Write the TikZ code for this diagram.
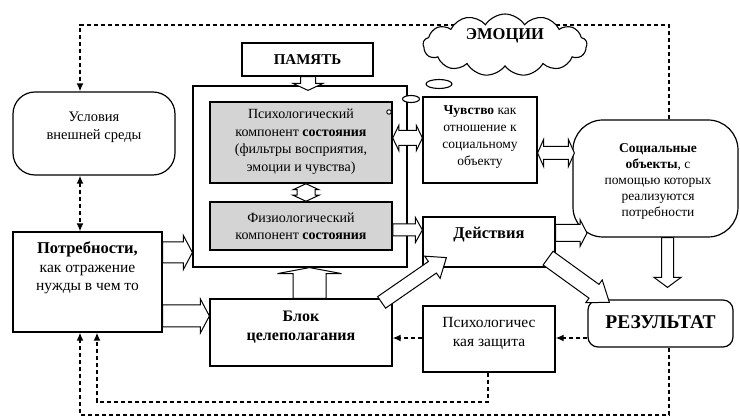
\documentclass[tikz,border=0pt]{standalone}
\usepackage{fontspec}
\setmainfont{Liberation Serif}
\usetikzlibrary{calc,shapes.symbols,shapes.geometric,arrows.meta}
% hollow single arrow: #1 start, #2 end, #3 half shaft, #4 half head, #5 head length
\newcommand\harrow[5]{%
  \coordinate (hq) at ($#2!#5!#1$);
  \draw[harr] ($#1!#3!90:#2$) -- ($(hq)!#3!90:#2$) -- ($(hq)!#4!90:#2$) -- #2
    -- ($(hq)!#4!-90:#2$) -- ($(hq)!#3!-90:#2$) -- ($#1!#3!-90:#2$) -- cycle;
}
% hollow double arrow
\newcommand\hdarrow[5]{%
  \coordinate (hp) at ($#1!#5!#2$);
  \coordinate (hq) at ($#2!#5!#1$);
  \draw[harr] #1 -- ($(hp)!#4!90:#2$) -- ($(hp)!#3!90:#2$) -- ($(hq)!#3!90:#2$)
    -- ($(hq)!#4!90:#2$) -- #2 -- ($(hq)!#4!-90:#2$) -- ($(hq)!#3!-90:#2$)
    -- ($(hp)!#3!-90:#2$) -- ($(hp)!#4!-90:#2$) -- cycle;
}
\begin{document}
\begin{tikzpicture}[x=1pt,y=-1pt,
  box/.style={draw, line width=1.2pt, fill=white, inner sep=0pt},
  gbox/.style={draw, line width=1.5pt, fill=black!17, inner sep=0pt},
  txt/.style={align=center, inner sep=0pt, font=\fontsize{14}{17.5}\selectfont},
  btxt/.style={align=center, inner sep=0pt, font=\fontsize{15.5}{18.5}\selectfont},
  harr/.style={line width=1pt, draw, fill=white, line join=miter},
  dline/.style={line width=1.8pt, dash pattern=on 4.5pt off 2.5pt},
  darr/.style={-{Latex[length=8pt,width=7pt]}}
]
\useasboundingbox (0,0) rectangle (740,419);

% ---------- boxes ----------
\node[box, minimum width=214pt, minimum height=181pt] (frame) at (300,176.5) {};
\node[box, minimum width=131pt, minimum height=33pt] (mem) at (307.5,59.5) {};
\node[txt, font=\fontsize{15}{17}\selectfont\bfseries] (memT) at (307.5,60) {ПАМЯТЬ};
\node[gbox, minimum width=182pt, minimum height=81pt] (psy) at (301,142.5) {};
\node[txt] (psyT) at (301,141.5) {Психологический\\компонент \textbf{состояния}\\(фильтры восприятия,\\эмоции и чувства)};
\node[gbox, minimum width=182pt, minimum height=48pt] (phy) at (301,226) {};
\node[txt] (phyT) at (301,226.5) {Физиологический\\компонент \textbf{состояния}};
\node[box, minimum width=114pt, minimum height=86pt] (feel) at (480,140) {};
\node[txt, font=\fontsize{13.5}{17}\selectfont] (feelT) at (480,137.5) {\textbf{Чувство} как\\отношение к\\социальному\\объекту};
\node[box, rounded corners=30pt, minimum width=165pt, minimum height=117pt] (soc) at (655.5,178.5) {};
\node[txt, font=\fontsize{13.5}{16}\selectfont] (socT) at (658,181) {\textbf{Социальные}\\\textbf{объекты}, с\\помощью которых\\реализуются\\потребности};
\node[box, rounded corners=22pt, minimum width=162pt, minimum height=83pt] (env) at (94,133.5) {};
\node[btxt, font=\fontsize{14.5}{18.5}\selectfont] (envT) at (94,127.5) {Условия\\внешней среды};
\node[box, minimum width=149pt, minimum height=100pt] (need) at (87.5,282) {};
\node[btxt] (needT) at (87.5,268) {{\fontsize{16.5}{18.5}\selectfont\bfseries Потребности,}\\как отражение\\нужды в чем то};
\node[box, minimum width=182pt, minimum height=67pt] (goal) at (301,332.5) {};
\node[btxt, font=\fontsize{16}{19}\selectfont\bfseries] (goalT) at (301,327.5) {Блок\\целеполагания};
\node[box, minimum width=132pt, minimum height=50pt] (act) at (489,242) {};
\node[btxt, font=\fontsize{16.5}{18}\selectfont\bfseries] (actT) at (489,235) {Действия};
\node[box, minimum width=132pt, minimum height=66pt] (def) at (489,339) {};
\node[btxt] (defT) at (489,333.5) {Психологичес\\кая защита};
\node[box, rounded corners=10pt, minimum width=145pt, minimum height=47pt] (res) at (660.5,323.5) {};
\node[inner sep=0pt, font=\fontsize{19.5}{21}\selectfont\bfseries] (resT) at (660.5,322) {РЕЗУЛЬТАТ};

% ---------- dashed connectors ----------
\coordinate (t1) at (669,25);
\coordinate (t2) at (80,25);
\draw[dline, darr] (soc.north -| t1) -- (t1) -- (t2) -- (env.north -| t2);
\coordinate (e1) at (80,0);
\draw[dline, {Latex[length=8pt,width=7pt]}-{Latex[length=8pt,width=7pt]}] (env.south -| e1) -- (need.north -| e1);
\coordinate (ry) at (0,338);
\draw[dline, darr] (res.west |- ry) -- (def.east |- ry);
\draw[dline, darr] (def.west |- ry) -- (goal.east |- ry);
\coordinate (b1) at (488,402);
\coordinate (b2) at (97,402);
\draw[dline, darr] (def.south -| b1) -- (b1) -- (b2) -- (need.south -| b2);
\coordinate (c1) at (669,415);
\coordinate (c2) at (80,415);
\draw[dline, darr] (res.south -| c1) -- (c1) -- (c2) -- (need.south -| c2);

% ---------- cloud and thought bubbles ----------
\node[cloud, cloud puffs=13, cloud puff arc=115, aspect=2.7, draw, line width=1.1pt, fill=white,
      minimum width=164pt, minimum height=62pt, inner sep=0pt] (emo) at (505,45) {};
\node[inner sep=0pt, font=\fontsize{16.5}{18}\selectfont\bfseries] (emoT) at (505,36) {ЭМОЦИИ};
\node[draw, line width=1.1pt, fill=white, ellipse, minimum width=26pt, minimum height=9pt, inner sep=0pt] (bub1) at (439,84) {};
\node[draw, line width=1.1pt, fill=white, ellipse, minimum width=17pt, minimum height=7pt, inner sep=0pt] (bub2) at (411,99) {};
\node[draw, line width=0.9pt, fill=white, circle, minimum size=4.5pt, inner sep=0pt] (bub3) at (389,112) {};

% ---------- hollow arrows ----------
\coordinate (m1) at (308,0);
\harrow{(mem.south -| m1)}{($(frame.north -| m1)+(0,5)$)}{7.5pt}{15pt}{7pt}
\coordinate (v1) at (306,0);
\hdarrow{(psy.south -| v1)}{(phy.north -| v1)}{9pt}{13pt}{6pt}
\coordinate (h1) at (0,138);
\hdarrow{(psy.east |- h1)}{(feel.west |- h1)}{7.5pt}{12.5pt}{6pt}
\coordinate (h2) at (0,230);
\harrow{(phy.east |- h2)}{(act.west |- h2)}{6pt}{12.5pt}{7pt}
\coordinate (h3) at (0,153);
\hdarrow{(feel.east |- h3)}{($(soc.west |- h3)+(2,0)$)}{6.5pt}{13.5pt}{6pt}
\coordinate (h4) at (0,233);
\harrow{(act.east |- h4)}{(587,233)}{8.5pt}{13.5pt}{7pt}
\coordinate (h5) at (0,252.5);
\harrow{(need.east |- h5)}{(frame.west |- h5)}{10.5pt}{17pt}{9pt}
\coordinate (h6) at (0,316);
\harrow{(need.east |- h6)}{(goal.west |- h6)}{11pt}{17pt}{9pt}
\coordinate (v2) at (309.5,0);
\harrow{(goal.north -| v2)}{(frame.south -| v2)}{16.5pt}{32pt}{6pt}
\harrow{($(goal.north east)+(-11,4)$)}{($(act.south west)+(24,-10)$)}{7pt}{13.5pt}{17pt}
\harrow{($(act.south east)+(-7.5,-9.5)$)}{($(res.north west)+(22,3)$)}{8.5pt}{14pt}{19pt}
\coordinate (v3) at (667.5,0);
\harrow{(soc.south -| v3)}{($(res.north -| v3)+(0,-12)$)}{6pt}{13.5pt}{10pt}
\end{tikzpicture}
\end{document}
